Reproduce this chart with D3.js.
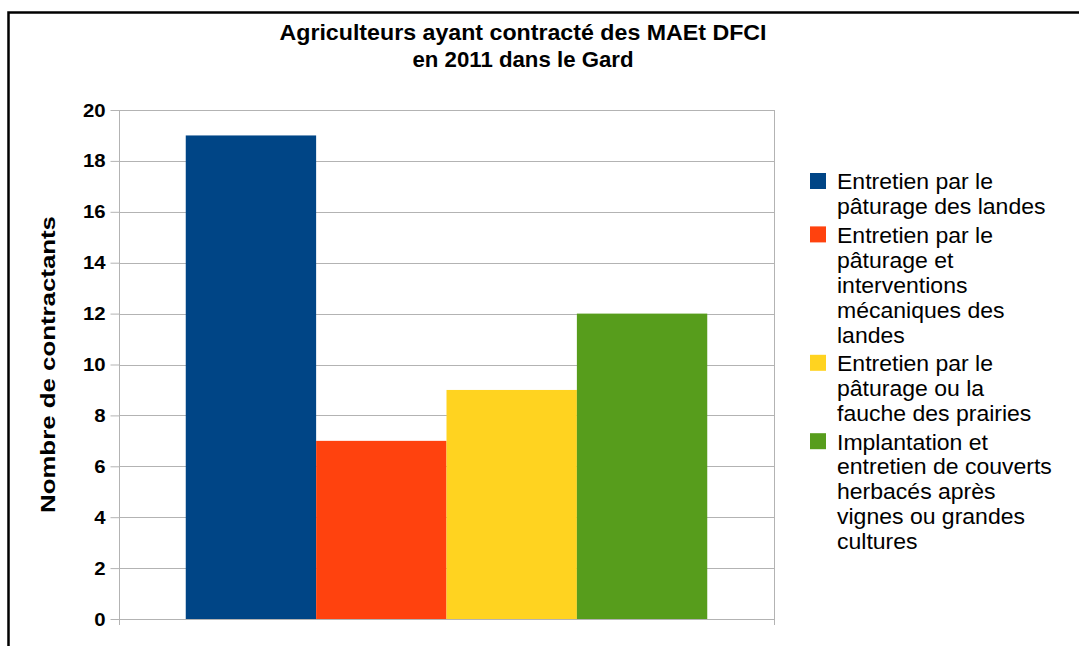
<!DOCTYPE html>
<html>
<head>
<meta charset="utf-8">
<script src="https://cdn.jsdelivr.net/npm/d3@7"></script>
<style>
  html, body { margin: 0; padding: 0; background: #fff; }
  svg { display: block; font-family: "Liberation Sans", Arial, sans-serif; }
  svg text { font-family: "Liberation Sans", Arial, sans-serif; fill: #000; }
</style>
</head>
<body>
<svg id="chart" width="1079" height="646"></svg>
<script>
// Chart data
const categories = ["Gard 2011"];
const seriesNames = [
  "Entretien par le pâturage des landes",
  "Entretien par le pâturage et interventions mécaniques des landes",
  "Entretien par le pâturage ou la fauche des prairies",
  "Implantation et entretien de couverts herbacés après vignes ou grandes cultures"
];
const seriesValues = [19, 7, 9, 12];
const seriesColors = ["#004586", "#ff420e", "#ffd320", "#579d1c"];
// Legend labels, broken into lines as displayed
const legendLines = [
  ["Entretien par le", "pâturage des landes"],
  ["Entretien par le", "pâturage et", "interventions", "mécaniques des", "landes"],
  ["Entretien par le", "pâturage ou la", "fauche des prairies"],
  ["Implantation et", "entretien de couverts", "herbacés après", "vignes ou grandes", "cultures"]
];
const yTicks = [0, 2, 4, 6, 8, 10, 12, 14, 16, 18, 20];
const titleLines = ["Agriculteurs ayant contracté des MAEt DFCI", "en 2011 dans le Gard"];
const yLabel = "Nombre de contractants";

const svg = d3.select("#chart");

// Widen a text element horizontally by a factor, keeping its anchor
function widen(sel, factor) {
  sel.each(function () {
    const w = this.getComputedTextLength();
    d3.select(this).attr("textLength", w * factor).attr("lengthAdjust", "spacingAndGlyphs");
  });
}

// Outer frame (open on the right and bottom)
svg.append("path")
  .attr("d", "M8.5,646 L8.5,12.5 L1079,12.5")
  .attr("fill", "none")
  .attr("stroke", "#000")
  .attr("stroke-width", 2.5);

const plot = { left: 119, right: 774, top: 110, bottom: 619 };

const y = d3.scaleLinear().domain([0, 20]).range([plot.bottom, plot.top]);
const x0 = d3.scaleBand().domain(categories).range([plot.left, plot.right])
  .paddingInner(0).paddingOuter(0.128);
const x1 = d3.scaleBand().domain(seriesNames).range([0, x0.bandwidth()]).padding(0);

// Horizontal grid lines
svg.append("g").selectAll("line").data(yTicks).join("line")
  .attr("x1", plot.left).attr("x2", plot.right)
  .attr("y1", d => Math.round(y(d)) + 0.5).attr("y2", d => Math.round(y(d)) + 0.5)
  .attr("stroke", "#b3b3b3").attr("stroke-width", 1);

// Right border of plot area
svg.append("line")
  .attr("x1", plot.right + 0.5).attr("x2", plot.right + 0.5)
  .attr("y1", plot.top).attr("y2", plot.bottom + 6)
  .attr("stroke", "#b3b3b3");

// Bars
svg.append("g").selectAll("g").data(categories).join("g")
  .attr("transform", d => `translate(${x0(d)},0)`)
  .selectAll("rect")
  .data(() => seriesNames.map((s, i) => ({ s, v: seriesValues[i], c: seriesColors[i] })))
  .join("rect")
  .attr("x", d => x1(d.s))
  .attr("y", d => y(d.v))
  .attr("width", x1.bandwidth())
  .attr("height", d => y(0) - y(d.v))
  .attr("fill", d => d.c);

// Y axis
const yAxis = d3.axisLeft(y).tickValues(yTicks).tickSize(9).tickPadding(5);
const gy = svg.append("g").attr("transform", `translate(${plot.left + 0.5},0)`).call(yAxis);
gy.select(".domain").remove();
gy.append("line").attr("x1", 0).attr("x2", 0).attr("y1", plot.top).attr("y2", plot.bottom + 6)
  .attr("stroke", "#b3b3b3");
gy.selectAll(".tick line").attr("stroke", "#b3b3b3");
gy.selectAll(".tick text")
  .attr("fill", "#000")
  .attr("font-family", null)
  .attr("font-size", null)
  .style("font-size", "19px")
  .style("font-weight", "bold");
widen(gy.selectAll(".tick text"), 1.07);

// Y axis title
svg.append("text")
  .attr("transform", `translate(55,${(plot.top + plot.bottom) / 2}) rotate(-90)`)
  .attr("text-anchor", "middle")
  .style("font-size", "20px")
  .style("font-weight", "bold")
  .attr("textLength", 297)
  .attr("lengthAdjust", "spacingAndGlyphs")
  .text(yLabel);

// Chart title
const titleWidths = [487, 221];
svg.append("g").selectAll("text").data(titleLines).join("text")
  .attr("x", 523)
  .attr("y", (d, i) => 40 + i * 27)
  .attr("text-anchor", "middle")
  .style("font-size", "22px").style("font-weight", "bold")
  .attr("textLength", (d, i) => titleWidths[i])
  .attr("lengthAdjust", "spacingAndGlyphs")
  .text(d => d);

// Legend
const lineH = 25, entryGap = 3.4;
let ly = 172;
const legend = svg.append("g");
legendLines.forEach((lines, i) => {
  const g = legend.append("g").attr("transform", `translate(810,${ly})`);
  g.append("rect").attr("x", 0).attr("y", 1).attr("width", 16).attr("height", 16)
    .attr("fill", seriesColors[i]);
  g.selectAll("text").data(lines).join("text")
    .attr("x", 27)
    .attr("y", (d, j) => 17.3 + j * lineH)
    .style("font-size", "21.5px")
    .text(d => d);
  ly += lines.length * lineH + entryGap;
});
widen(legend.selectAll("text"), 1.07);
</script>
</body>
</html>
